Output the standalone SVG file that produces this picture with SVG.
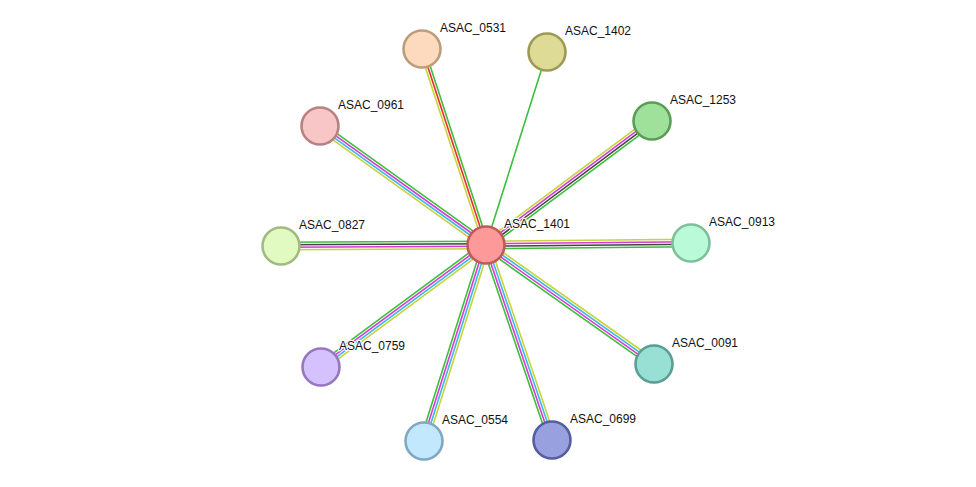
<svg xmlns="http://www.w3.org/2000/svg" width="976" height="487" viewBox="0 0 976 487">
<style>
.e line{stroke-width:1.6;fill:none}
.g{stroke:#3cbf3c}.r{stroke:#f02a2a}.y{stroke:#c6d43c}.m{stroke:#d83ad8}.c{stroke:#3cb8e8}.k{stroke:#444444}
.n circle{stroke-width:2.6}
.n text{font-family:"Liberation Sans",Arial,sans-serif;font-size:12px;fill:#111;stroke:#fff;stroke-width:2.5;paint-order:stroke;stroke-linejoin:round}
</style>
<rect width="976" height="487" fill="#fff"/>
<g id="connectors" class="e">
<g transform="translate(486,245) rotate(-108.08)"><line class="y" x1="0" y1="-2.5" x2="206" y2="-2.5"/><line class="r" x1="0" y1="0" x2="206" y2="0"/><line class="g" x1="0" y1="2.5" x2="206" y2="2.5"/></g>
<g transform="translate(486,245) rotate(-72.46)"><line class="g" x1="0" y1="0" x2="202" y2="0"/></g>
<g transform="translate(486,245) rotate(-144.37)"><line class="y" x1="0" y1="-3.75" x2="204" y2="-3.75"/><line class="c" x1="0" y1="-1.25" x2="204" y2="-1.25"/><line class="m" x1="0" y1="1.25" x2="204" y2="1.25"/><line class="g" x1="0" y1="3.75" x2="204" y2="3.75"/></g>
<g transform="translate(486,245) rotate(-36.76)"><line class="y" x1="0" y1="-3.75" x2="207" y2="-3.75"/><line class="m" x1="0" y1="-1.25" x2="207" y2="-1.25"/><line class="k" x1="0" y1="1.25" x2="207" y2="1.25"/><line class="g" x1="0" y1="3.75" x2="207" y2="3.75"/></g>
<g transform="translate(486,245) rotate(-0.56)"><line class="y" x1="0" y1="-3.75" x2="205" y2="-3.75"/><line class="m" x1="0" y1="-1.25" x2="205" y2="-1.25"/><line class="k" x1="0" y1="1.25" x2="205" y2="1.25"/><line class="g" x1="0" y1="3.75" x2="205" y2="3.75"/></g>
<g transform="translate(486,245) rotate(179.72)"><line class="y" x1="0" y1="-3.75" x2="205" y2="-3.75"/><line class="m" x1="0" y1="-1.25" x2="205" y2="-1.25"/><line class="k" x1="0" y1="1.25" x2="205" y2="1.25"/><line class="g" x1="0" y1="3.75" x2="205" y2="3.75"/></g>
<g transform="translate(486,245) rotate(143.52)"><line class="y" x1="0" y1="-3.75" x2="205" y2="-3.75"/><line class="c" x1="0" y1="-1.25" x2="205" y2="-1.25"/><line class="m" x1="0" y1="1.25" x2="205" y2="1.25"/><line class="g" x1="0" y1="3.75" x2="205" y2="3.75"/></g>
<g transform="translate(486,245) rotate(35.31)"><line class="y" x1="0" y1="-3.75" x2="206" y2="-3.75"/><line class="c" x1="0" y1="-1.25" x2="206" y2="-1.25"/><line class="m" x1="0" y1="1.25" x2="206" y2="1.25"/><line class="g" x1="0" y1="3.75" x2="206" y2="3.75"/></g>
<g transform="translate(486,245) rotate(107.55)"><line class="y" x1="0" y1="-3.75" x2="206" y2="-3.75"/><line class="c" x1="0" y1="-1.25" x2="206" y2="-1.25"/><line class="m" x1="0" y1="1.25" x2="206" y2="1.25"/><line class="g" x1="0" y1="3.75" x2="206" y2="3.75"/></g>
<g transform="translate(486,245) rotate(71.30)"><line class="y" x1="0" y1="-3.75" x2="206" y2="-3.75"/><line class="c" x1="0" y1="-1.25" x2="206" y2="-1.25"/><line class="m" x1="0" y1="1.25" x2="206" y2="1.25"/><line class="g" x1="0" y1="3.75" x2="206" y2="3.75"/></g>
</g>
<g id="ASAC_0531" class="n"><circle cx="422" cy="49" r="18.5" fill="#fdd9bd" stroke="#bd9c7c"/><text x="440" y="32">ASAC_0531</text></g>
<g id="ASAC_1402" class="n"><circle cx="547" cy="52" r="18.5" fill="#dedb96" stroke="#9d9a55"/><text x="565" y="35">ASAC_1402</text></g>
<g id="ASAC_0961" class="n"><circle cx="320" cy="126" r="18.5" fill="#f8c6c6" stroke="#b98282"/><text x="338" y="109">ASAC_0961</text></g>
<g id="ASAC_1253" class="n"><circle cx="652" cy="121" r="18.5" fill="#9fe09a" stroke="#5a9e55"/><text x="670" y="104">ASAC_1253</text></g>
<g id="ASAC_0827" class="n"><circle cx="281" cy="246" r="18.5" fill="#e1fac1" stroke="#a0ba80"/><text x="299" y="229">ASAC_0827</text></g>
<g id="ASAC_0913" class="n"><circle cx="691" cy="243" r="18.5" fill="#b9fbd9" stroke="#7ec09c"/><text x="709" y="226">ASAC_0913</text></g>
<g id="ASAC_0759" class="n"><circle cx="321" cy="367" r="18.5" fill="#d4c1fd" stroke="#9678c0"/><text x="339" y="350">ASAC_0759</text></g>
<g id="ASAC_0091" class="n"><circle cx="654" cy="364" r="18.5" fill="#98e0d4" stroke="#5a9e94"/><text x="672" y="347">ASAC_0091</text></g>
<g id="ASAC_0554" class="n"><circle cx="424" cy="441" r="18.5" fill="#c2e8fd" stroke="#80a8c0"/><text x="442" y="424">ASAC_0554</text></g>
<g id="ASAC_0699" class="n"><circle cx="552" cy="440" r="18.5" fill="#98a0e0" stroke="#555e9e"/><text x="570" y="423">ASAC_0699</text></g>
<g id="ASAC_1401" class="n"><circle cx="486" cy="245" r="18.5" fill="#fe9999" stroke="#c05a5a"/><text x="504" y="228">ASAC_1401</text></g>
</svg>
